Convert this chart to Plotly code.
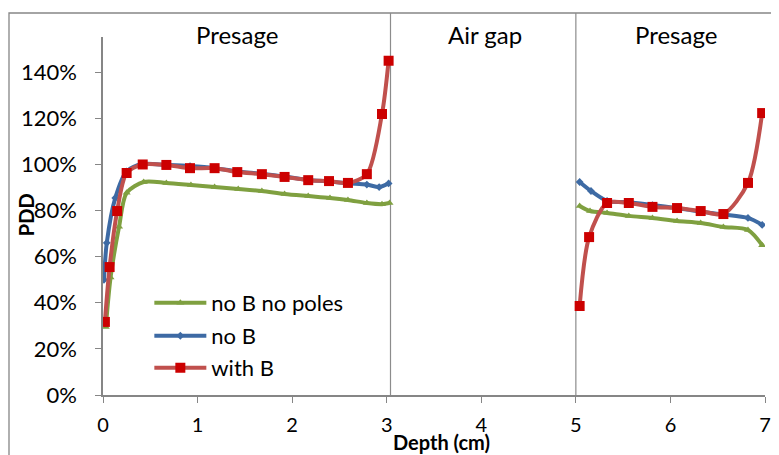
import plotly.graph_objects as go

# ---- data (depth in cm, PDD in %) ----
depth_nobnp_1 = [0.03, 0.08, 0.17, 0.25, 0.43, 0.67, 0.93, 1.18, 1.43, 1.68, 1.92, 2.17, 2.40, 2.59, 2.79, 2.95, 3.03]
pdd_nobnp_1 = [29.5, 51.0, 73.0, 87.7, 92.4, 92.0, 91.1, 90.2, 89.4, 88.5, 87.2, 86.3, 85.5, 84.6, 83.3, 82.8, 83.3]
depth_nobnp_2 = [5.04, 5.15, 5.33, 5.56, 5.81, 6.07, 6.32, 6.56, 6.82, 6.97]
pdd_nobnp_2 = [82.0, 79.8, 79.0, 77.7, 76.8, 75.5, 74.6, 72.9, 71.6, 65.0]

depth_nob_1 = [0.01, 0.04, 0.13, 0.25, 0.42, 0.67, 0.92, 1.17, 1.42, 1.67, 1.92, 2.17, 2.42, 2.59, 2.79, 2.92, 3.02]
pdd_nob_1 = [50.0, 66.0, 85.5, 97.0, 100.2, 99.8, 99.3, 98.5, 97.0, 96.0, 94.8, 93.3, 92.5, 91.8, 91.3, 90.2, 91.8]
depth_nob_2 = [5.04, 5.16, 5.33, 5.56, 5.81, 6.07, 6.32, 6.56, 6.82, 6.97]
pdd_nob_2 = [92.4, 88.5, 84.2, 83.6, 82.4, 81.1, 79.5, 78.3, 76.8, 73.8]

depth_withb_1 = [0.02, 0.07, 0.15, 0.25, 0.42, 0.67, 0.92, 1.18, 1.42, 1.68, 1.92, 2.17, 2.39, 2.59, 2.79, 2.95, 3.02]
pdd_withb_1 = [31.7, 55.5, 79.8, 96.3, 100.0, 99.8, 98.4, 98.4, 96.7, 95.8, 94.6, 93.2, 92.8, 92.0, 95.8, 121.9, 145.0]
depth_withb_2 = [5.04, 5.14, 5.33, 5.56, 5.81, 6.07, 6.32, 6.56, 6.82, 6.97]
pdd_withb_2 = [38.6, 68.5, 83.3, 83.3, 81.6, 81.1, 79.8, 78.5, 92.0, 122.3]

region_labels = ["Presage", "Air gap", "Presage"]
region_centers = [1.42, 4.04, 6.06]
boundaries = [3.04, 5.0]

series_names = ["no B no poles", "no B", "with B"]

FONT = "Lato"

def joined(a, b):
    return a + [None] + b

fig = go.Figure()

fig.add_trace(go.Scatter(
    x=joined(depth_nobnp_1, depth_nobnp_2), y=joined(pdd_nobnp_1, pdd_nobnp_2),
    name=series_names[0], mode="lines+markers", connectgaps=False,
    line=dict(color="#7FA040", width=4, shape="spline", smoothing=0.8),
    marker=dict(symbol="triangle-up", size=7, color="#7FA040"),
    legend="legend"))
fig.add_trace(go.Scatter(
    x=joined(depth_nob_1, depth_nob_2), y=joined(pdd_nob_1, pdd_nob_2),
    name=series_names[1], mode="lines+markers", connectgaps=False,
    line=dict(color="#3D6AA4", width=4, shape="spline", smoothing=0.8),
    marker=dict(symbol="diamond", size=6, color="#3D6AA4"),
    legend="legend2"))
fig.add_trace(go.Scatter(
    x=joined(depth_withb_1, depth_withb_2), y=joined(pdd_withb_1, pdd_withb_2),
    name=series_names[2], mode="lines+markers", connectgaps=False,
    line=dict(color="#C0504D", width=4, shape="spline", smoothing=0.8),
    marker=dict(symbol="square", size=10, color="#CC0000"),
    legend="legend3"))

# chart border
fig.add_shape(type="rect", xref="paper", yref="paper", x0=-0.142, x1=1.06, y0=-0.25, y1=1.067,
              line=dict(color="#868686", width=1.3), layer="below")
# region boundaries
for b in boundaries:
    fig.add_shape(type="line", xref="x", yref="paper", x0=b, x1=b, y0=0, y1=1.067,
                  line=dict(color="#8C8C8C", width=1.2), layer="below")

for lab, c in zip(region_labels, region_centers):
    fig.add_annotation(x=c, xref="x", y=1.006, yref="paper", text=lab, showarrow=False,
                       font=dict(family=FONT, size=24, color="#000000"),
                       xanchor="center", yanchor="middle")

fig.add_annotation(x=0.512, xref="paper", y=-0.131, yref="paper", text="<b>Depth (cm)</b>",
                   showarrow=False, font=dict(family=FONT, size=20, color="#000000"),
                   xanchor="center", yanchor="middle")
fig.add_annotation(x=-0.116, xref="paper", y=0.503, yref="paper", text="<b>PDD</b>",
                   showarrow=False, textangle=-90, font=dict(family=FONT, size=20, color="#000000"),
                   xanchor="center", yanchor="middle")

leg_common = dict(xref="paper", yref="paper", x=0.07, xanchor="left", yanchor="middle",
                  bgcolor="rgba(0,0,0,0)", borderwidth=0, itemwidth=52,
                  font=dict(family=FONT, size=22, color="#000000"))

# the page adds an 8 px body margin, so the figure is 8 px smaller on each axis
fig.update_layout(
    width=771, height=447,
    margin=dict(l=95, r=14, t=29, b=60),
    paper_bgcolor="white", plot_bgcolor="white",
    font=dict(family=FONT, size=22, color="#000000"),
    showlegend=True,
    legend=dict(y=0.257, **leg_common),
    legend2=dict(y=0.165, **leg_common),
    legend3=dict(y=0.0754, **leg_common),
    xaxis=dict(range=[0, 7], dtick=1, tick0=0, showgrid=False, zeroline=False, automargin=False,
               showline=True, linecolor="#868686", linewidth=1.5,
               ticks="outside", ticklen=6, tickcolor="#868686", tickwidth=1.3,
               ticklabelstandoff=5, tickfont=dict(family=FONT, size=20)),
    yaxis=dict(range=[0, 155.3], dtick=20, tick0=0, ticksuffix="%", showgrid=False, zeroline=False,
               automargin=False,
               showline=True, linecolor="#868686", linewidth=1.5,
               ticks="outside", ticklen=6, tickcolor="#868686", tickwidth=1.3,
               ticklabelstandoff=14, tickfont=dict(family=FONT, size=22)),
)

fig.write_html("out.html")
